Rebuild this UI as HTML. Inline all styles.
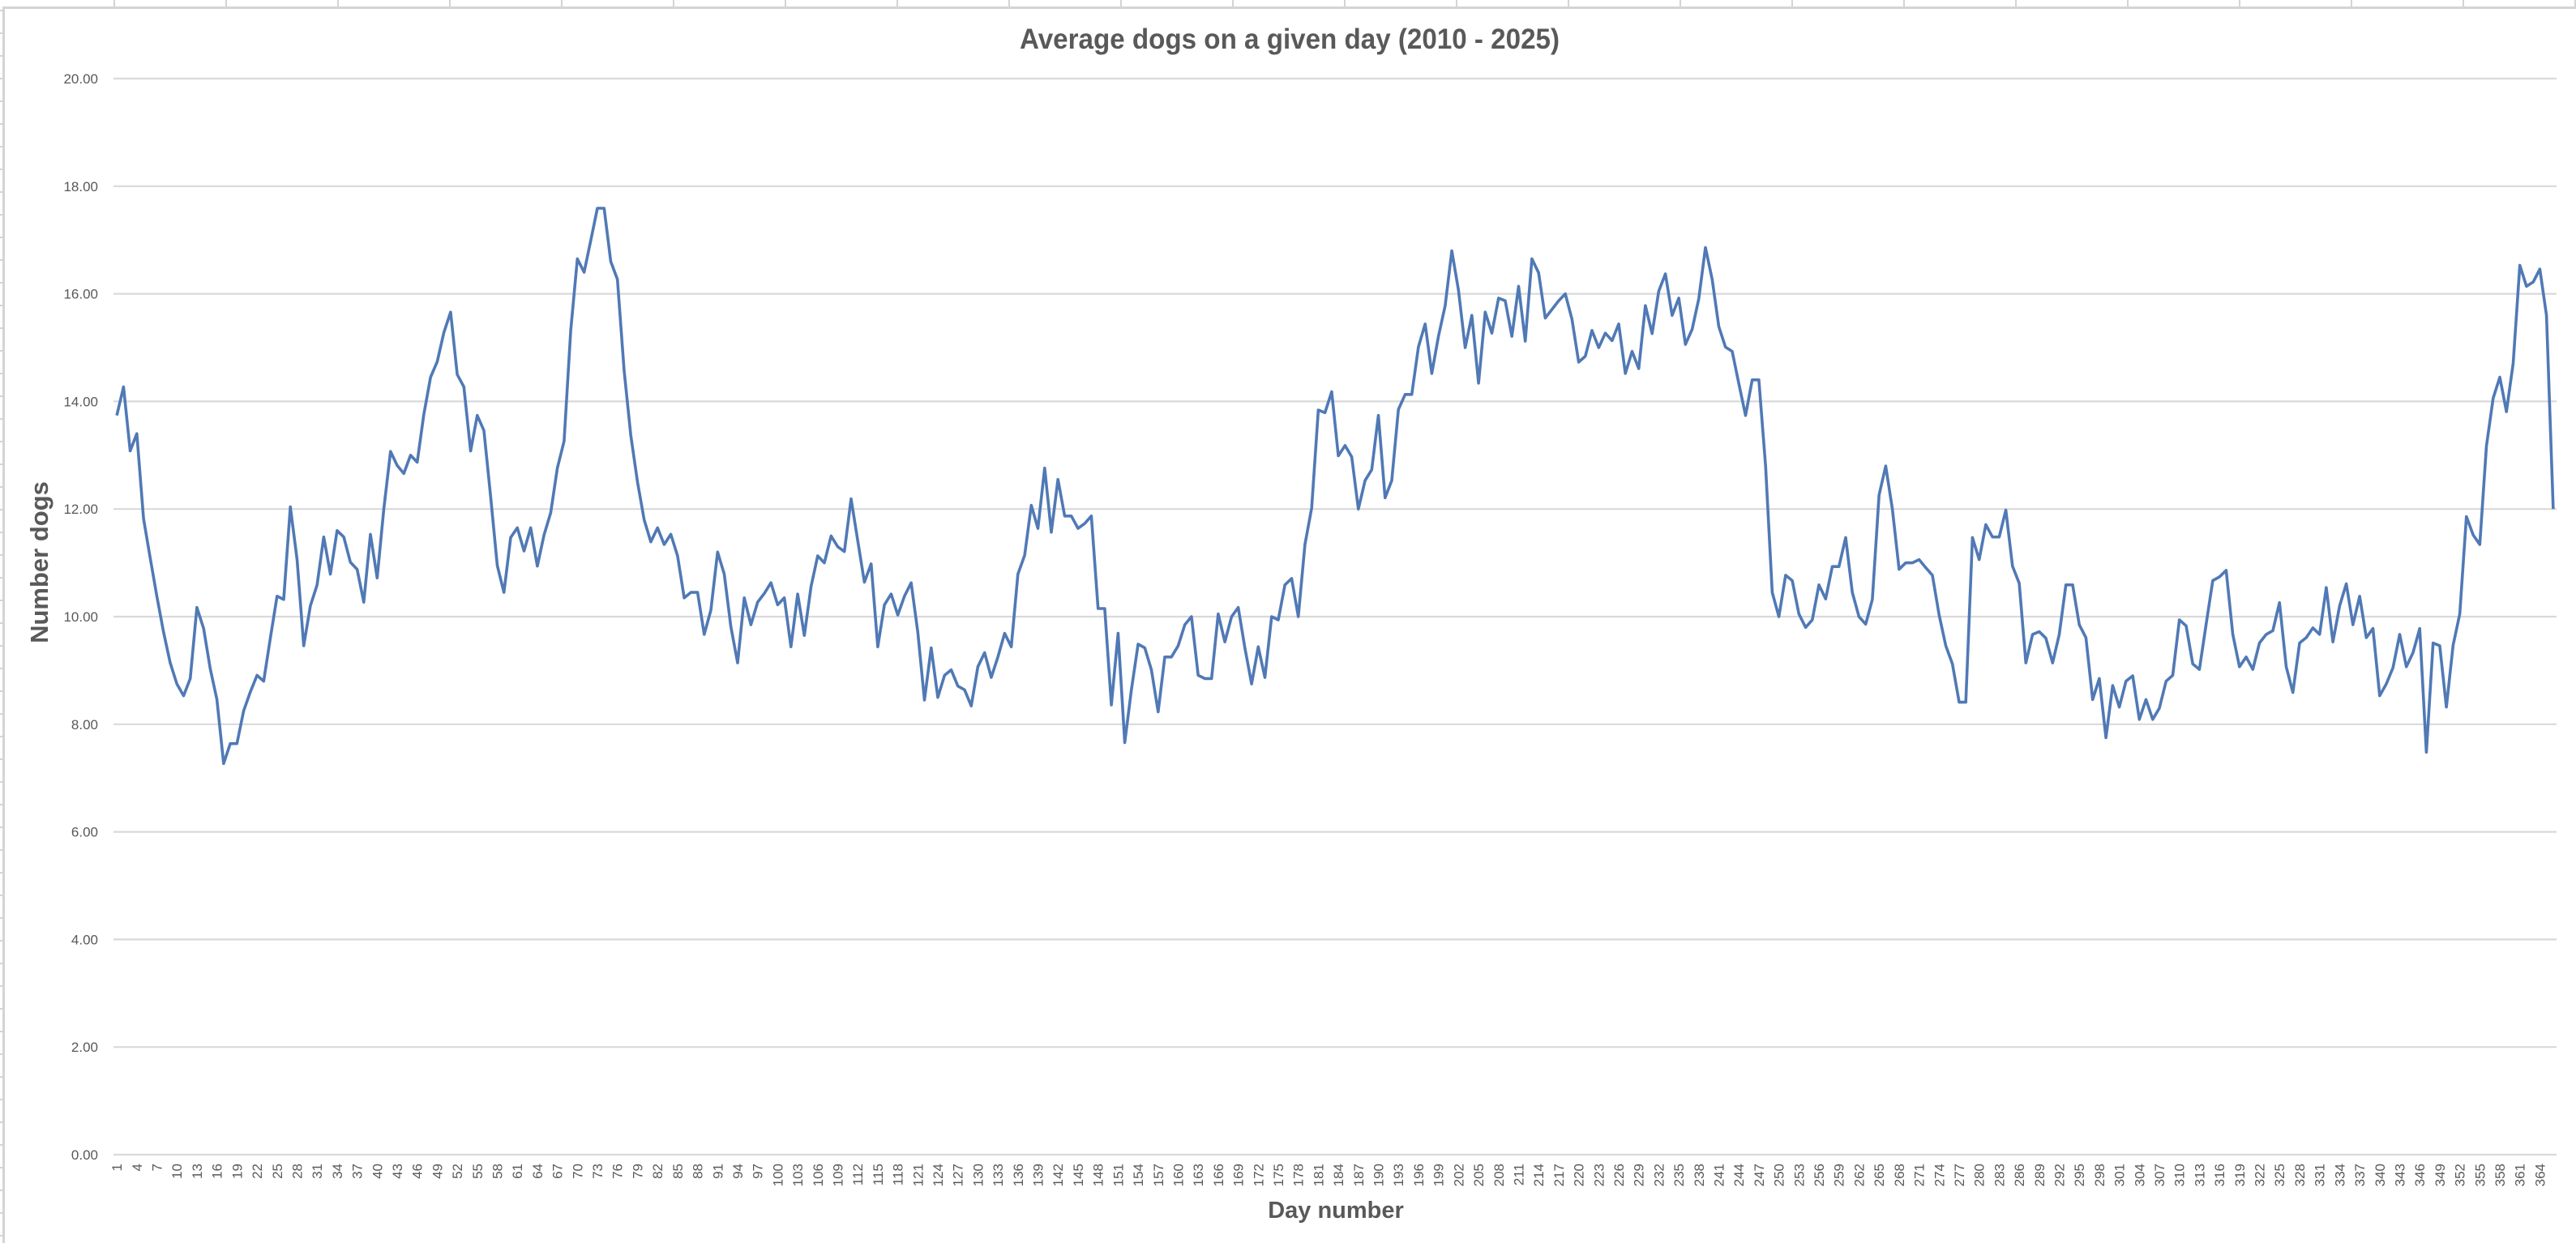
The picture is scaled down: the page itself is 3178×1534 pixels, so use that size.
<!DOCTYPE html>
<html><head><meta charset="utf-8"><style>
html,body{margin:0;padding:0;background:#fff;}
svg{display:block;}
text{font-family:"Liberation Sans",sans-serif;fill:#595959;}
</style></head><body>
<svg id="chart" width="3178" height="1534" viewBox="0 0 3178 1534" xmlns="http://www.w3.org/2000/svg">
<g id="sheet"></g>
<rect x="4.5" y="9.5" width="3180" height="1530" fill="#fff" stroke="#d4d4d4" stroke-width="3"/>
<text x="1591" y="60" text-anchor="middle" font-size="35" font-weight="bold" textLength="666" lengthAdjust="spacingAndGlyphs">Average dogs on a given day (2010 - 2025)</text>
<g id="grid"></g>
<g id="yticks"></g>
<g id="xticks"></g>
<path id="series" fill="none" stroke="#5079b5" stroke-width="3.6" stroke-linejoin="round"/>
<text transform="translate(59,694) rotate(-90)" text-anchor="middle" font-size="31" font-weight="bold">Number dogs</text>
<text x="1648" y="1503" text-anchor="middle" font-size="29" font-weight="bold">Day number</text>
</svg>
<script>
const yTicks=[0,2,4,6,8,10,12,14,16,18,20];
const values=[13.74,14.27,13.08,13.40,11.82,11.09,10.38,9.71,9.14,8.75,8.53,8.85,10.17,9.78,9.03,8.46,7.27,7.64,7.64,8.25,8.60,8.91,8.80,9.60,10.38,10.32,12.04,11.06,9.46,10.20,10.59,11.48,10.79,11.60,11.48,11.01,10.88,10.27,11.53,10.72,12.00,13.07,12.81,12.66,13.00,12.87,13.76,14.45,14.74,15.28,15.66,14.50,14.27,13.08,13.74,13.46,12.23,10.95,10.45,
11.47,11.65,11.22,11.65,10.94,11.52,11.93,12.76,13.26,15.32,16.65,16.40,16.99,17.59,17.59,16.60,16.27,14.57,13.37,12.51,11.80,11.39,11.65,11.34,11.53,11.13,10.35,10.45,10.45,9.67,10.12,11.20,10.79,9.81,9.14,10.35,9.85,10.27,10.43,10.63,10.22,10.35,9.44,10.42,9.65,10.56,11.13,11.00,11.50,11.30,11.21,12.19,11.41,10.64,10.98,9.44,10.22,10.42,10.03,10.38,10.63,9.71,8.45,9.42,
8.50,8.91,9.01,8.71,8.64,8.34,9.07,9.33,8.87,9.25,9.69,9.44,10.79,11.14,12.07,11.64,12.76,11.57,12.55,11.87,11.87,11.64,11.73,11.87,10.15,10.15,8.36,9.69,7.66,8.64,9.49,9.42,9.01,8.23,9.25,9.25,9.46,9.85,10.00,8.91,8.85,8.85,10.05,9.53,10.00,10.17,9.42,8.75,9.44,8.87,10.00,9.94,10.59,10.71,10.00,11.34,12.02,13.84,13.79,14.18,12.99,13.18,12.97,12.00,
12.53,12.73,13.74,12.21,12.53,13.85,14.13,14.13,15.01,15.44,14.52,15.21,15.78,16.80,16.07,15.00,15.60,14.34,15.66,15.27,15.92,15.87,15.21,16.14,15.12,16.65,16.39,15.55,15.71,15.87,16.00,15.53,14.73,14.84,15.32,15.00,15.27,15.13,15.44,14.52,14.93,14.61,15.78,15.26,16.05,16.37,15.60,15.92,15.06,15.34,15.91,16.86,16.27,15.39,15.01,14.93,14.33,13.74,14.40,14.40,12.80,10.45,10.00,10.77,10.67,
10.05,9.80,9.94,10.59,10.33,10.93,10.93,11.47,10.45,10.00,9.86,10.32,12.26,12.80,12.00,10.88,11.00,11.00,11.06,10.91,10.77,10.03,9.46,9.12,8.41,8.41,11.47,11.06,11.71,11.48,11.48,11.98,10.94,10.62,9.14,9.67,9.72,9.60,9.14,9.67,10.59,10.59,9.85,9.61,8.46,8.85,7.75,8.72,8.32,8.80,8.90,8.09,8.46,8.09,8.30,8.80,8.91,9.94,9.83,9.12,9.02,9.86,10.67,10.74,
10.86,9.67,9.07,9.25,9.02,9.51,9.67,9.74,10.26,9.07,8.59,9.51,9.61,9.79,9.67,10.54,9.53,10.20,10.61,9.85,10.38,9.61,9.78,8.53,8.75,9.05,9.67,9.07,9.33,9.78,7.48,9.51,9.46,8.32,9.47,10.05,11.86,11.52,11.34,13.17,14.06,14.45,13.81,14.71,16.53,16.14,16.22,16.46,15.60,12.00];
const categories=values.map((v,i)=>i+1);

const NS="http://www.w3.org/2000/svg";
const plotL=140,plotR=3154,y0px=1425,y20px=97,yMax=20;
const n=categories.length;
const step=(plotR-plotL)/n;
function xScale(i){return plotL+step*(i+0.5);}
function yScale(v){return y0px-(v/yMax)*(y0px-y20px);}

// sheet gridlines
const sheet=document.getElementById('sheet');
for(let x=141;x<3178;x+=138){const l=document.createElementNS(NS,'line');


l.setAttribute('x1',x);l.setAttribute('x2',x);l.setAttribute('y1',0);l.setAttribute('y2',9);l.setAttribute('stroke','#d4d4d4');l.setAttribute('stroke-width','2');sheet.appendChild(l);}
for(let y=13;y<1534;y+=28){const l=document.createElementNS(NS,'line');


l.setAttribute('x1',0);l.setAttribute('x2',4);l.setAttribute('y1',y);l.setAttribute('y2',y);l.setAttribute('stroke','#d4d4d4');l.setAttribute('stroke-width','2');sheet.appendChild(l);}

const grid=document.getElementById('grid'),yt=document.getElementById('yticks'),xt=document.getElementById('xticks');
yTicks.forEach(t=>{
  const y=yScale(t);
  const l=document.createElementNS(NS,'line');
  
  
  l.setAttribute('x1',plotL);l.setAttribute('x2',plotR);l.setAttribute('y1',y);l.setAttribute('y2',y);
  l.setAttribute('stroke','#d9d9d9');l.setAttribute('stroke-width','2.2');grid.appendChild(l);
  const tx=document.createElementNS(NS,'text');
  
  
  tx.setAttribute('x',121);tx.setAttribute('y',y+6);tx.setAttribute('text-anchor','end');tx.setAttribute('font-size','17');
  tx.textContent=t.toFixed(2);yt.appendChild(tx);
});
categories.forEach((c,i)=>{
  if(i%3!==0)return;
  const x=xScale(i);
  const tx=document.createElementNS(NS,'text');
  
  
  tx.setAttribute('transform','translate('+(x+6)+',1436) rotate(-90)');
  tx.setAttribute('text-anchor','end');tx.setAttribute('font-size','17');
  tx.textContent=c;xt.appendChild(tx);
});
let d='';
values.forEach((v,i)=>{d+=(i?'L':'M')+xScale(i).toFixed(1)+','+yScale(v).toFixed(1);});
document.getElementById('series').setAttribute('d',d);
</script>
</body></html>
